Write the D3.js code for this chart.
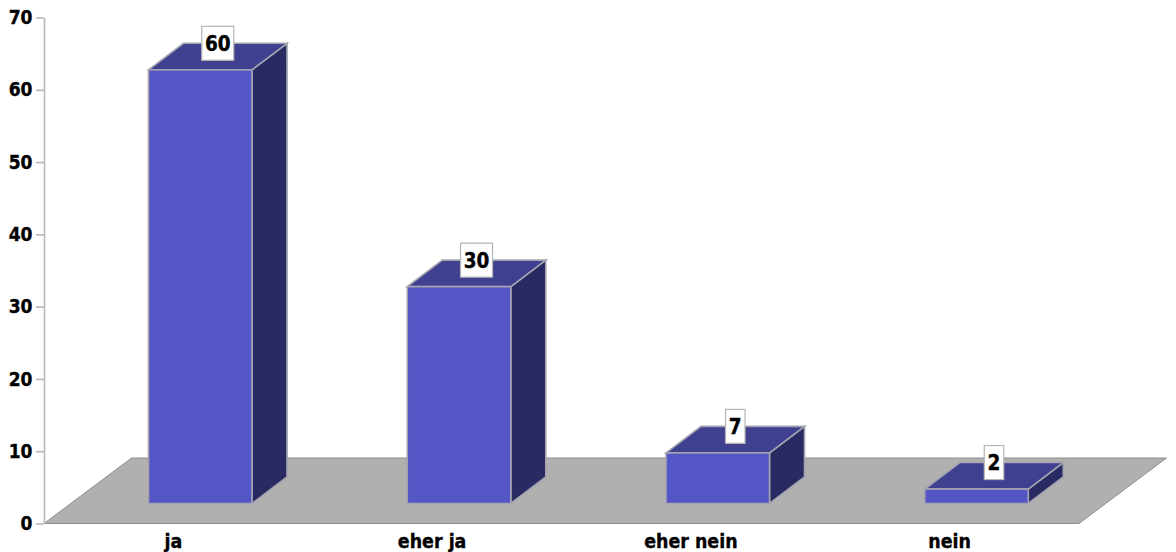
<!DOCTYPE html>
<html>
<head>
<meta charset="utf-8">
<script src="https://cdn.jsdelivr.net/npm/d3@7"></script>
<style>
html, body { margin: 0; padding: 0; background: #fff; }
svg { display: block; }
text { font-family: "DejaVu Sans", sans-serif; font-stretch: condensed; font-weight: 700; fill: #000; stroke: #000; stroke-width: 0.35px; }
</style>
</head>
<body>
<svg id="chart" width="1176" height="552"></svg>
<script>
const categories = ["ja", "eher ja", "eher nein", "nein"];
const values = [60, 30, 7, 2];
const yTicks = [0, 10, 20, 30, 40, 50, 60, 70];

const frontColor = "#5456c6";
const topColor = "#3f408f";
const sideColor = "#2a2a63";
const edgeColor = "#a4a4b0";
const floorColor = "#b0b0b0";
const floorEdge = "#8e8e8e";
const axisColor = "#b8b8b8";

const svg = d3.select("#chart");

const x = d3.scaleBand().domain(categories).range([44, 1079]);
const y = d3.scaleLinear().domain([0, 70]).range([523.5, 17.5]);

// Oblique projection offsets for the chart's depth
const floorDepth = { dx: 87.5, dy: -65.5 };
const barDepth = { dx: 35, dy: -26.5 };
const barWidth = 103.5;
// Bars stand on the floor, part-way back from its front edge
const barShift = { dx: 26.9, dy: -20 };

const line = d3.line();

// Floor
const floor = [
  [x.range()[0], y(0)],
  [x.range()[1], y(0)],
  [x.range()[1] + floorDepth.dx, y(0) + floorDepth.dy],
  [x.range()[0] + floorDepth.dx, y(0) + floorDepth.dy]
];
svg.append("path")
  .attr("d", line(floor) + "Z")
  .attr("fill", floorColor)
  .attr("stroke", floorEdge)
  .attr("stroke-width", 1);

// Value axis
const yAxis = d3.axisLeft(y)
  .tickValues(yTicks)
  .tickSize(8)
  .tickPadding(3.5)
  .tickSizeOuter(0);

const axisG = svg.append("g")
  .attr("transform", "translate(44,0)")
  .call(yAxis);
axisG.selectAll("path, line").attr("stroke", axisColor).attr("stroke-width", 1.6);
axisG.selectAll("text")
  .attr("font-size", 19)
  .style("font-family", '"DejaVu Sans", sans-serif')
  .style("font-stretch", "condensed")
  .style("font-weight", 700)
  .attr("fill", "#000");

// Category labels
svg.append("g").selectAll("text")
  .data(categories)
  .join("text")
  .attr("x", d => x(d) + x.bandwidth() / 2)
  .attr("y", 548)
  .attr("text-anchor", "middle")
  .attr("font-size", 19.4)
  .text(d => d);

// Bars as three visible faces
const bars = svg.append("g").selectAll("g")
  .data(categories.map((c, i) => ({ category: c, value: values[i] })))
  .join("g");

const geometry = d => {
  const left = x(d.category) + x.bandwidth() / 2 - barWidth / 2 + barShift.dx;
  const right = left + barWidth;
  const bottom = y(0) + barShift.dy;
  const top = bottom - (y(0) - y(d.value));
  return { left, right, top, bottom };
};

bars.append("path")
  .attr("d", d => {
    const g = geometry(d);
    return line([
      [g.right, g.top],
      [g.right + barDepth.dx, g.top + barDepth.dy],
      [g.right + barDepth.dx, g.bottom + barDepth.dy],
      [g.right, g.bottom]
    ]) + "Z";
  })
  .attr("fill", sideColor)
  .attr("stroke", edgeColor)
  .attr("stroke-width", 1.6);

bars.append("path")
  .attr("d", d => {
    const g = geometry(d);
    return line([
      [g.left, g.top],
      [g.left + barDepth.dx, g.top + barDepth.dy],
      [g.right + barDepth.dx, g.top + barDepth.dy],
      [g.right, g.top]
    ]) + "Z";
  })
  .attr("fill", topColor)
  .attr("stroke", edgeColor)
  .attr("stroke-width", 1.6);

bars.append("rect")
  .attr("x", d => geometry(d).left)
  .attr("y", d => geometry(d).top)
  .attr("width", barWidth)
  .attr("height", d => geometry(d).bottom - geometry(d).top)
  .attr("fill", frontColor)
  .attr("stroke", edgeColor)
  .attr("stroke-width", 1.6);

// Value labels in white boxes on the back edge of each bar's top
const labels = bars.append("g")
  .attr("transform", d => {
    const g = geometry(d);
    return `translate(${g.left + barWidth / 2 + barDepth.dx / 2},${g.top + barDepth.dy})`;
  });

labels.append("rect")
  .attr("x", d => -(String(d.value).length * 6.25 + 3.5))
  .attr("y", -17)
  .attr("width", d => 2 * (String(d.value).length * 6.25 + 3.5))
  .attr("height", 34)
  .attr("fill", "#fff")
  .attr("stroke", "#b4b4b4")
  .attr("stroke-width", 1.2);

labels.append("text")
  .attr("text-anchor", "middle")
  .attr("y", 7.5)
  .attr("font-size", 20.5)
  .text(d => d.value);
</script>
</body>
</html>
